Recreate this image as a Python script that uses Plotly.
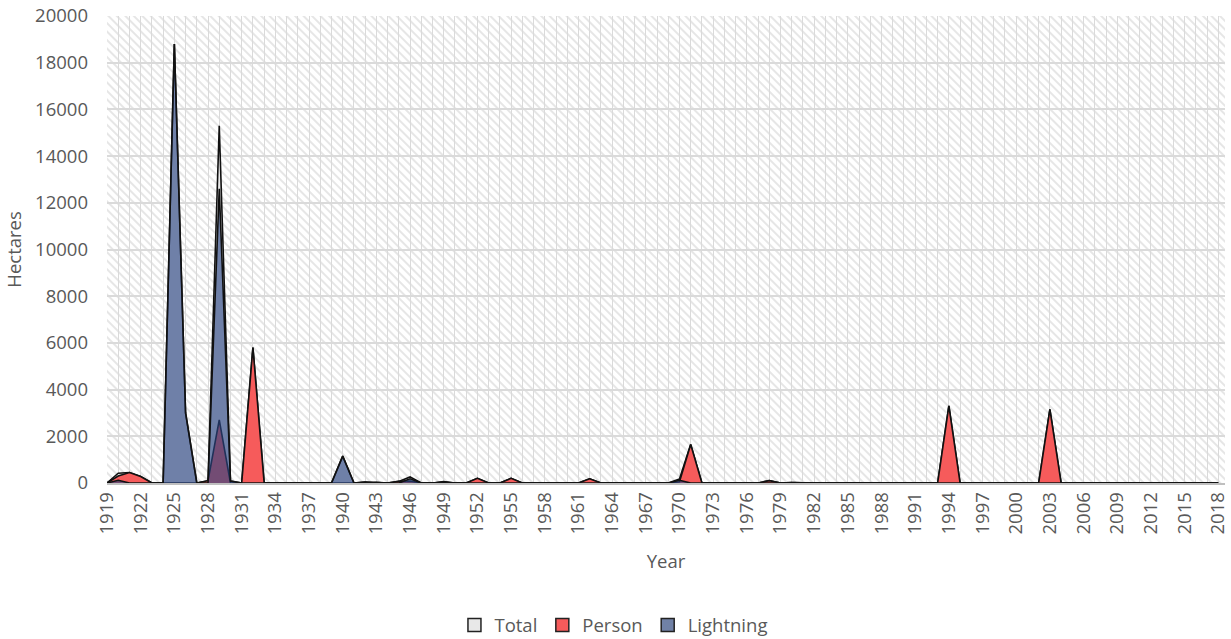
import base64
import plotly.graph_objects as go

# ---- data ----
years = list(range(1919, 2019))

person = [
    0, 300, 450, 280, 0, 0, 0, 0, 0, 100,        # 1919-1928
    2700, 0, 0, 5800, 0, 0, 0, 0, 0, 0,          # 1929-1938
    0, 0, 0, 40, 0, 0, 70, 80, 0, 0,             # 1939-1948
    40, 0, 0, 200, 0, 0, 200, 0, 0, 0,           # 1949-1958
    0, 0, 0, 180, 0, 0, 0, 0, 0, 0,              # 1959-1968
    0, 50, 1650, 0, 0, 0, 0, 0, 0, 100,          # 1969-1978
    0, 20, 0, 0, 0, 0, 0, 0, 0, 0,               # 1979-1988
    0, 0, 0, 0, 0, 3300, 0, 0, 0, 0,             # 1989-1998
    0, 0, 0, 0, 3150, 0, 0, 0, 0, 0,             # 1999-2008
    0, 20, 0, 0, 0, 0, 0, 20, 0, 0,              # 2009-2018
]

lightning = [
    0, 120, 0, 0, 0, 0, 18800, 3000, 0, 0,       # 1919-1928
    12600, 80, 0, 0, 0, 0, 0, 0, 0, 0,           # 1929-1938
    0, 1150, 0, 0, 30, 0, 0, 180, 0, 0,          # 1939-1948
    20, 0, 0, 0, 0, 0, 0, 0, 0, 0,               # 1949-1958
    0, 0, 0, 0, 0, 0, 0, 0, 0, 0,                # 1959-1968
    0, 120, 0, 0, 0, 0, 0, 0, 0, 0,              # 1969-1978
    0, 0, 0, 0, 0, 0, 0, 0, 0, 0,                # 1979-1988
    0, 0, 0, 0, 0, 0, 0, 0, 0, 0,                # 1989-1998
    0, 0, 0, 0, 0, 0, 0, 0, 0, 0,                # 1999-2008
    0, 0, 0, 0, 0, 0, 0, 0, 0, 0,                # 2009-2018
]

total = [
    0, 420, 450, 280, 0, 0, 18800, 3000, 0, 100,
    15300, 80, 0, 5800, 0, 0, 0, 0, 0, 0,
    0, 1150, 0, 40, 30, 0, 70, 260, 0, 0,
    60, 0, 0, 200, 0, 0, 200, 0, 0, 0,
    0, 0, 0, 180, 0, 0, 0, 0, 0, 0,
    0, 170, 1650, 0, 0, 0, 0, 0, 0, 100,
    0, 20, 0, 0, 0, 0, 0, 0, 0, 0,
    0, 0, 0, 0, 0, 3300, 0, 0, 0, 0,
    0, 0, 0, 0, 3150, 0, 0, 0, 0, 0,
    0, 20, 0, 0, 0, 0, 0, 20, 0, 0,
]

series_names = ["Total", "Person", "Lightning"]
fill_colors = ["#ebebeb", "#f65b5b", "rgba(40,68,130,0.64)"]
legend_colors = ["#e8e8e8", "#f65b5b", "#7081a6"]

FONT = "Open Sans"
FS = 18.5
TXT = "#595959"
GRID = "#dadada"

fig = go.Figure()
for name, vals, col in zip(series_names, [total, person, lightning], fill_colors):
    fig.add_trace(go.Scatter(
        x=years, y=vals, name=name, mode="lines",
        fill="tozeroy", fillcolor=col,
        line=dict(color="#111111", width=1.6),
        legendgroup=name, showlegend=False,
        hoverinfo="x+y+name",
    ))
# legend swatches (square markers, no data drawn)
for name, col in zip(series_names, legend_colors):
    fig.add_trace(go.Scatter(
        x=[None], y=[None], name=name, mode="markers",
        marker=dict(symbol="square", size=13, color=col,
                    line=dict(color="#222222", width=1.5)),
        legendgroup=name, showlegend=True,
    ))

# hatched plot-area background (decoration only)
W, H = 1118, 467
svg = (
    f'<svg xmlns="http://www.w3.org/2000/svg" width="{W}" height="{H}" '
    f'viewBox="0 0 {W} {H}" preserveAspectRatio="none">'
    '<defs><pattern id="p" width="6" height="6" patternUnits="userSpaceOnUse" '
    'patternTransform="rotate(-45)">'
    '<rect width="6" height="6" fill="#ffffff"/>'
    '<line x1="1" y1="0" x2="1" y2="6" stroke="#dedede" stroke-width="1.5"/>'
    '</pattern></defs>'
    f'<rect width="{W}" height="{H}" fill="url(#p)"/></svg>'
)
src = "data:image/svg+xml;base64," + base64.b64encode(svg.encode()).decode()

fig.update_layout(
    width=1231, height=639,
    margin=dict(l=107, r=6, t=16, b=156, autoexpand=False),
    paper_bgcolor="white",
    plot_bgcolor="rgba(0,0,0,0)",
    font=dict(family=FONT, size=FS, color=TXT),
    images=[dict(source=src, xref="paper", yref="paper", x=0, y=1,
                 sizex=1, sizey=1, xanchor="left", yanchor="top",
                 sizing="stretch", layer="below")],
    legend=dict(orientation="h", x=0.453, xanchor="center", y=-0.305,
                yanchor="middle", font=dict(family=FONT, size=FS, color=TXT),
                itemwidth=30, traceorder="normal"),
    showlegend=True,
)

fig.update_xaxes(
    range=[1919, 2018.6], tickmode="linear", tick0=1919, dtick=3,
    tickangle=-90, tickfont=dict(family=FONT, size=FS, color=TXT),
    showgrid=True, gridcolor=GRID, gridwidth=1,
    minor=dict(dtick=1, tick0=1919, showgrid=True, gridcolor=GRID, gridwidth=1),
    showline=True, linecolor="#bfbfbf", linewidth=1.5,
    zeroline=False, ticks="", automargin=False,
    title=dict(text="Year", font=dict(family=FONT, size=FS, color=TXT), standoff=22),
)
fig.update_yaxes(
    range=[0, 20000], tickmode="linear", tick0=0, dtick=2000, tickformat="d",
    tickfont=dict(family=FONT, size=FS, color=TXT),
    showgrid=True, gridcolor=GRID, gridwidth=1.5,
    showline=False, zeroline=False, ticks="", ticklabelstandoff=18,
    automargin=False,
    title=dict(text="Hectares", font=dict(family=FONT, size=FS, color=TXT), standoff=8),
)

fig.write_html(
    "out.html",
    config={"displayModeBar": False},
    post_script="document.body.style.margin='0';document.body.style.overflow='hidden';",
)
